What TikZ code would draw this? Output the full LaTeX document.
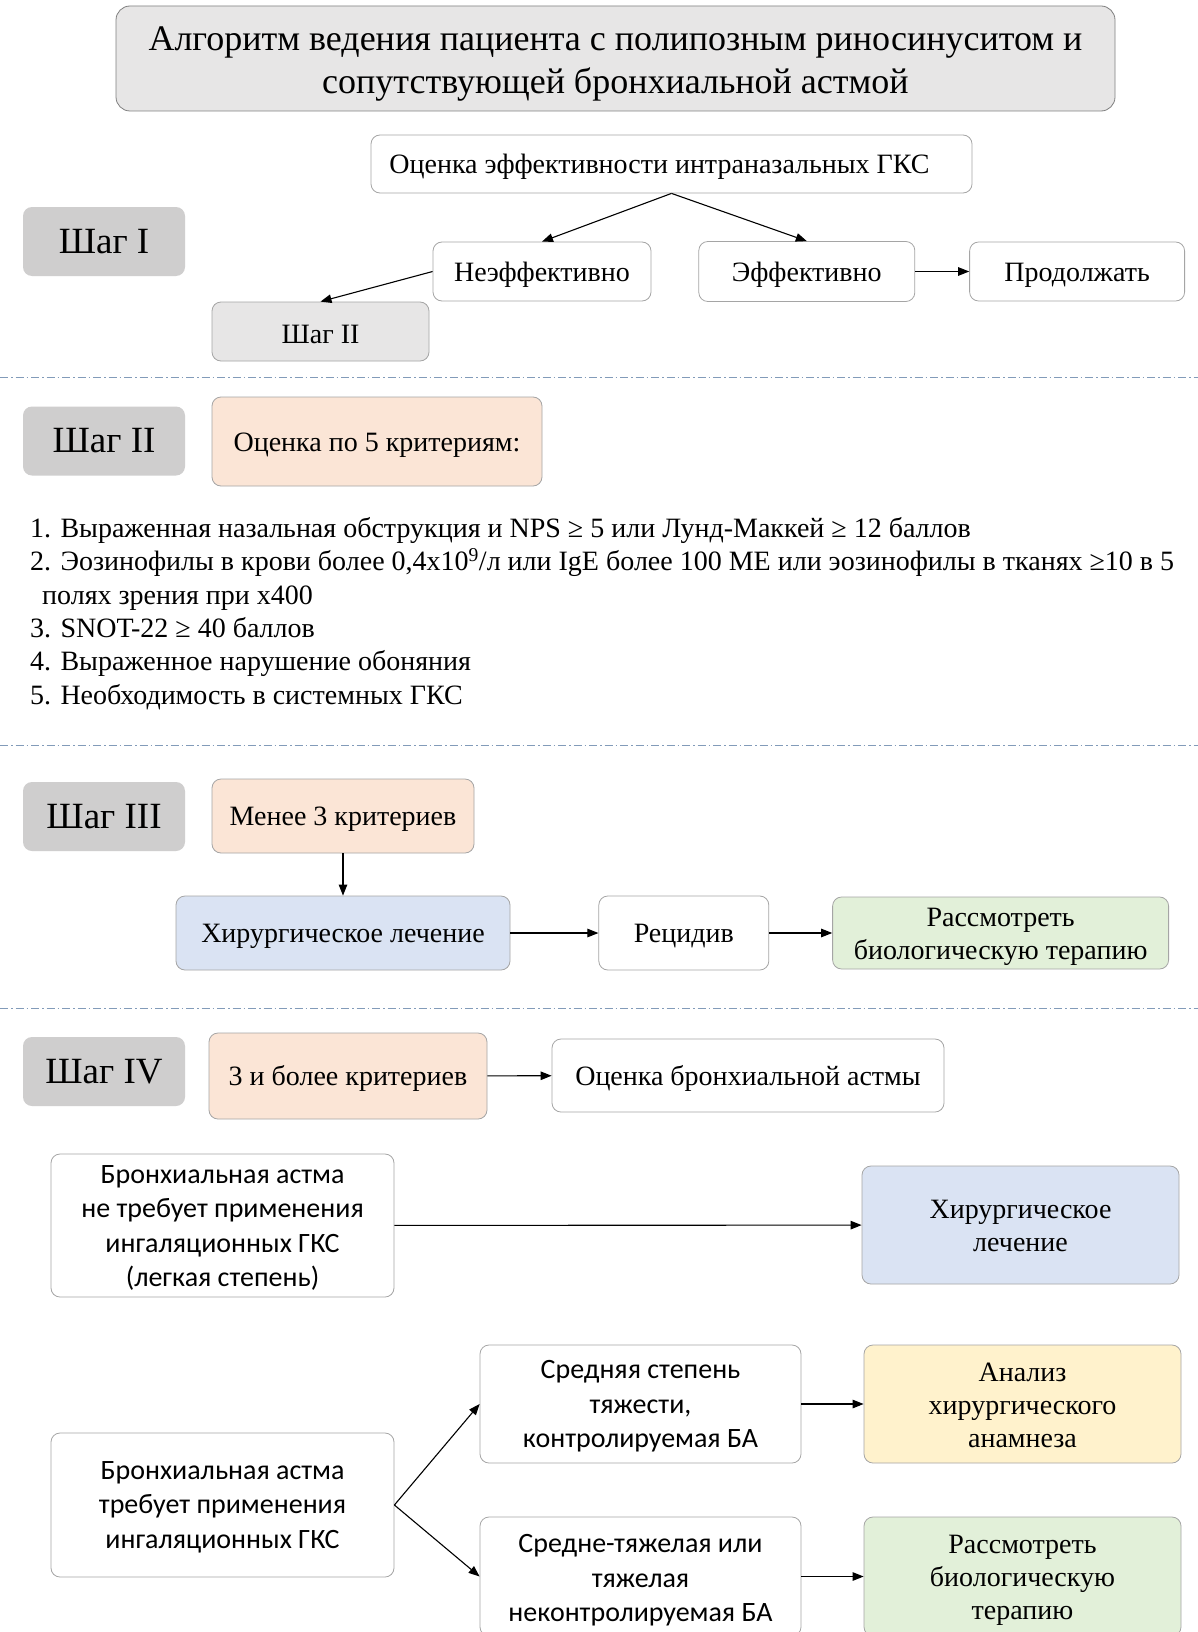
\documentclass[tikz,border=0pt]{standalone}
\usepackage{fontspec}
\setmainfont{Liberation Serif}
\newfontfamily\sansba{Carlito}
\usepackage{tikz}
\usetikzlibrary{positioning,arrows.meta}

\definecolor{stepgray}{RGB}{207,206,206}
\definecolor{titlegray}{RGB}{231,230,230}
\definecolor{framegray}{RGB}{165,165,165}
\definecolor{peach}{RGB}{251,229,214}
\definecolor{paleblue}{RGB}{218,227,243}
\definecolor{palegreen}{RGB}{226,240,217}
\definecolor{paleyellow}{RGB}{255,242,204}
\definecolor{dashblue}{RGB}{130,155,185}

\newcommand{\topstrut}[1][0.92em]{\rule{0pt}{#1}}

\tikzset{
  box/.style={draw=framegray, line width=0.8pt, rounded corners=9pt, fill=white,
    align=center, inner sep=3pt, font=\fontsize{28}{33}\selectfont,
    execute at begin node={\rule{0pt}{0.9em}}},
  stepbox/.style={fill=stepgray, rounded corners=9pt, minimum width=162pt,
    minimum height=69pt, font=\fontsize{37}{40}\selectfont},
  babox/.style={box, font=\sansba\fontsize{28}{34.5}\selectfont},
  arr/.style={-{Triangle[length=11pt,width=8.5pt]}, line width=1.1pt},
  sep/.style={dashblue, line width=1pt, dash pattern=on 8pt off 3pt on 1.5pt off 3pt}
}

\begin{document}
\begin{tikzpicture}[x=1pt, y=-1pt]
\useasboundingbox[fill=white] (0,0) rectangle (1198,1632);

\node[box, fill=titlegray, draw=gray, minimum width=999pt, minimum height=105pt,
  rounded corners=14pt, font=\fontsize{36}{43}\selectfont] (title) at (615.5,58.5)
  {\topstrut[0.98em]Алгоритм ведения пациента с полипозным риносинуситом и\\сопутствующей бронхиальной астмой};

\node[box, minimum width=601pt, minimum height=58pt] (ocenka) at (671.5,164)
  {Оценка эффективности интраназальных ГКС\hspace*{24pt}};
\node[stepbox] (step1) at (104,241.5) {Шаг I};
\node[box, minimum width=218pt, minimum height=59pt] (neeff) at (542,271.5) {Неэффективно};
\node[box, minimum width=216pt, minimum height=60pt, right=47pt of neeff] (eff) {Эффективно};
\node[box, minimum width=215pt, minimum height=59pt, right=54pt of eff] (prod) {Продолжать};
\node[box, fill=titlegray, minimum width=217pt, minimum height=59pt] (gostep2) at (320.5,331.5) {Шаг II};
\draw[arr] (ocenka.south) -- (neeff.north);
\draw[arr] (ocenka.south) -- (eff.north);
\draw[arr] (neeff.west) -- (gostep2.north);
\draw[arr] (eff) -- (prod);

\coordinate (sepL1) at (0,377);
\coordinate (sepR1) at (1198,377);
\draw[sep] (sepL1) -- (sepR1);

\node[stepbox] (step2) at (104,441) {Шаг II};
\node[box, fill=peach, minimum width=330pt, minimum height=89pt] (crit5) at (377,441.5)
  {Оценка по 5 критериям:};
\node[anchor=north west, align=left, inner sep=0pt, font=\fontsize{28}{33.4}\selectfont] (critlist) at (30,517)
  {1. Выраженная назальная обструкция и NPS ≥ 5 или Лунд-Маккей ≥ 12 баллов\\
   2. Эозинофилы в крови более 0,4х10\textsuperscript{9}/л или IgE более 100 МЕ или эозинофилы в тканях ≥10 в 5\\
   \hspace*{12pt}полях зрения при х400\\
   3. SNOT-22 ≥ 40 баллов\\
   4. Выраженное нарушение обоняния\\
   5. Необходимость в системных ГКС};

\coordinate (sepL2) at (0,745);
\coordinate (sepR2) at (1198,745);
\draw[sep] (sepL2) -- (sepR2);

\node[stepbox] (step3) at (104,816.5) {Шаг III};
\node[box, fill=peach, minimum width=262pt, minimum height=74pt] (less3) at (343,816) {Менее 3 критериев};
\node[box, fill=paleblue, minimum width=334pt, minimum height=74pt] (surg1) at (343,933) {Хирургическое лечение};
\node[box, minimum width=170pt, minimum height=74pt, right=88pt of surg1] (relapse) {Рецидив};
\node[box, fill=palegreen, minimum width=336pt, minimum height=72pt, right=63pt of relapse] (bio1)
  {\topstrut Рассмотреть\\биологическую терапию};
\draw[arr] (less3) -- (surg1);
\draw[arr] (surg1) -- (relapse);
\draw[arr] (relapse) -- (bio1);

\coordinate (sepL3) at (0,1008);
\coordinate (sepR3) at (1198,1008);
\draw[sep] (sepL3) -- (sepR3);

\node[stepbox] (step4) at (104,1071.5) {Шаг IV};
\node[box, fill=peach, minimum width=278pt, minimum height=86pt] (more3) at (348,1076) {3 и более критериев};
\node[box, minimum width=392pt, minimum height=73pt] (asthma) at (748,1075.5) {Оценка бронхиальной астмы};
\draw[arr] (more3) -- (asthma);

\node[babox, minimum width=343pt, minimum height=143pt] (mildba) at (222.5,1225.5)
  {\topstrut[0.8em]Бронхиальная астма\\не требует применения\\ингаляционных ГКС\\(легкая степень)};
\node[box, fill=paleblue, minimum width=317pt, minimum height=118pt] (surg2) at (1020.5,1225)
  {\topstrut[0.75em]Хирургическое\\лечение};
\draw[arr] (mildba) -- (surg2);

\node[babox, minimum width=343pt, minimum height=144pt] (igcsba) at (222.5,1505)
  {\topstrut[0.8em]Бронхиальная астма\\требует применения\\ингаляционных ГКС};
\node[babox, minimum width=321pt, minimum height=118pt] (moderate) at (640.5,1404)
  {\topstrut[0.82em]Средняя степень\\тяжести,\\контролируемая БА};
\node[babox, minimum width=321pt, minimum height=119pt] (severe) at (640.5,1576.5)
  {\topstrut Средне-тяжелая или\\тяжелая\\неконтролируемая БА};
\node[box, fill=paleyellow, minimum width=317pt, minimum height=118pt] (history) at (1022.5,1404)
  {\topstrut[0.75em]Анализ\\хирургического\\анамнеза};
\node[box, fill=palegreen, minimum width=317pt, minimum height=119pt] (bio2) at (1022.5,1576.5)
  {\topstrut[0.95em]Рассмотреть\\биологическую\\терапию};
\draw[arr] (igcsba.east) -- (moderate.west);
\draw[arr] (igcsba.east) -- (severe.west);
\draw[arr] (moderate) -- (history);
\draw[arr] (severe) -- (bio2);
\end{tikzpicture}
\end{document}
